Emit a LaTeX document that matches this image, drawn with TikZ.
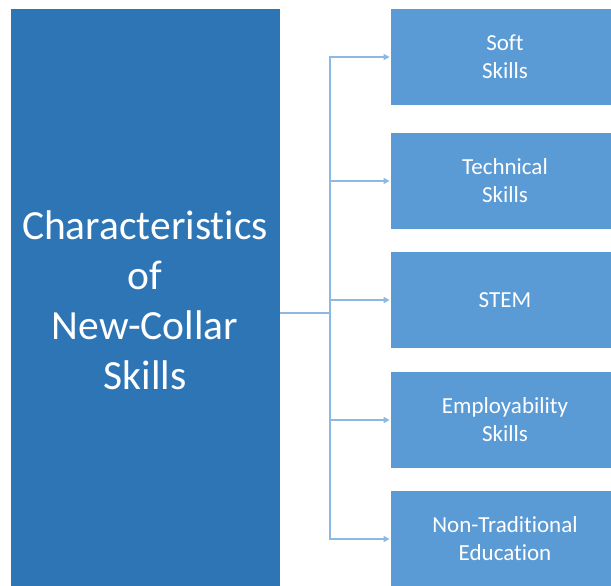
\documentclass[tikz,border=0pt]{standalone}
\usepackage{fontspec}
\setmainfont[Ligatures=NoCommon]{Carlito}
\usetikzlibrary{arrows.meta}
\definecolor{mainblue}{HTML}{2E75B6}
\definecolor{subblue}{HTML}{5B9BD5}
\definecolor{linkblue}{HTML}{8DB8E2}
\tikzset{
  mainbox/.style={rectangle, fill=mainblue, draw=white, line width=0.8pt, text=white,
    minimum width=270pt, minimum height=584pt, inner sep=0pt, align=center,
    font=\fontsize{41.5}{50}\selectfont},
  subbox/.style={rectangle, fill=subblue, draw=white, line width=0.8pt, text=white,
    minimum width=230pt, minimum height=97pt, inner sep=0pt, align=center,
    font=\fontsize{23}{28}\selectfont},
  link/.style={draw=linkblue, line width=1.1pt},
  linkarrow/.style={link, -{Triangle[length=6pt,width=6pt]}}
}
\begin{document}
\begin{tikzpicture}[x=1pt,y=-1pt]
\useasboundingbox (0,0) rectangle (611,586);
\clip (0,0) rectangle (611,586);
\fill[white] (0,0) rectangle (611,586);
\node[mainbox] (main) at (145,300) {Characteristics\\of\\New-Collar\\Skills};
\node[subbox] (b1) at (505,57) {Soft\\Skills};
\node[subbox] (b2) at (505,181) {Technical\\Skills};
\node[subbox] (b3) at (505,300) {STEM};
\node[subbox] (b4) at (505,420) {Employability\\Skills};
\node[subbox] (b5) at (505,539) {Non-Traditional\\Education};
\coordinate (j) at (330,313);
\draw[link] (main.east |- j) -- (j);
\foreach \b in {b1,b2,b3,b4,b5} {
  \draw[linkarrow] (j) |- (\b.west);
}
\end{tikzpicture}
\end{document}
